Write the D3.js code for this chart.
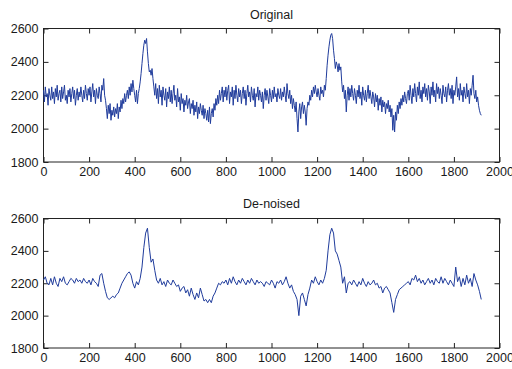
<!DOCTYPE html>
<html>
<head>
<meta charset="utf-8">
<script src="https://cdn.jsdelivr.net/npm/d3@7/dist/d3.min.js"></script>
<style>
  html, body { margin: 0; padding: 0; background: #fff; }
  svg { display: block; }
  .tick text { font-family: "Liberation Sans", Arial, Helvetica, sans-serif; font-size: 12.5px; fill: #1a1a1a; }
  .title { font-family: "Liberation Sans", Arial, Helvetica, sans-serif; font-size: 12.5px; fill: #1a1a1a; }
</style>
</head>
<body>
<svg id="chart" width="512" height="369"></svg>
<script>
// Spacing (in samples) between stored readings of each series
const originalStep = 4;
const denoisedStep = 8;

const xTicks = [0, 200, 400, 600, 800, 1000, 1200, 1400, 1600, 1800, 2000];
const yTicks = [1800, 2000, 2200, 2400, 2600];
const titles = ["Original", "De-noised"];

// Raw signal, one reading every 4 samples (0 .. 1920)
const original = [
  2230,2160,2250,2190,2210,2140,2240,2200,2170,2250,2180,2220,2150,2240,2190,2260,2170,2210,2230,2160,
  2250,2180,2220,2260,2170,2200,2150,2230,2190,2240,2160,2210,2250,2180,2230,2140,2200,2240,2170,2220,
  2190,2250,2200,2160,2230,2180,2260,2210,2170,2240,2200,2250,2160,2220,2270,2190,2230,2150,2240,2200,
  2180,2250,2210,2160,2260,2230,2300,2200,2170,2120,2060,2140,2090,2150,2050,2110,2080,2130,2070,2120,
  2090,2150,2060,2130,2100,2170,2120,2180,2150,2210,2160,2200,2230,2180,2250,2200,2270,2220,2290,2240,
  2200,2160,2230,2150,2210,2240,2280,2330,2390,2450,2500,2530,2510,2540,2460,2390,2340,2350,2320,2360,
  2300,2250,2200,2270,2180,2240,2150,2260,2190,2230,2140,2250,2200,2170,2240,2130,2220,2180,2250,2160,
  2230,2150,2210,2260,2170,2200,2130,2240,2160,2190,2110,2210,2150,2180,2100,2170,2140,2200,2120,2160,
  2180,2090,2150,2120,2170,2080,2140,2100,2160,2060,2130,2090,2150,2110,2080,2140,2060,2120,2090,2050,
  2110,2040,2130,2030,2090,2120,2070,2150,2110,2180,2140,2200,2150,2230,2170,2210,2250,2160,2230,2190,
  2250,2170,2230,2260,2150,2220,2190,2250,2140,2230,2180,2260,2200,2160,2240,2190,2230,2150,2210,2250,
  2180,2230,2140,2210,2260,2190,2220,2160,2250,2200,2170,2240,2130,2210,2190,2250,2170,2230,2200,2160,
  2220,2120,2200,2240,2170,2230,2190,2150,2240,2200,2160,2230,2180,2250,2190,2210,2160,2240,2200,2180,
  2240,2170,2220,2190,2250,2200,2160,2270,2210,2180,2230,2150,2200,2120,2180,2140,2100,2160,2060,1980,
  2100,2150,2060,2130,2160,2090,2140,2100,2020,2120,2160,2140,2200,2170,2230,2190,2250,2210,2260,2220,
  2190,2240,2200,2170,2250,2210,2230,2190,2260,2230,2300,2380,2440,2490,2530,2560,2570,2540,2470,2420,
  2360,2400,2380,2340,2390,2350,2370,2280,2220,2260,2180,2230,2100,2200,2250,2170,2240,2190,2260,2210,
  2170,2240,2200,2150,2230,2190,2260,2180,2220,2140,2250,2200,2170,2230,2160,2210,2260,2180,2230,2190,
  2150,2220,2190,2130,2210,2160,2200,2110,2180,2140,2190,2100,2170,2130,2160,2090,2150,2120,2170,2100,
  2140,2070,2120,1990,2080,1980,2100,2050,2140,2090,2160,2120,2180,2140,2200,2160,2220,2180,2150,2210,
  2230,2170,2260,2200,2150,2240,2190,2270,2210,2160,2250,2200,2280,2180,2230,2160,2250,2210,2270,2190,
  2240,2170,2260,2220,2150,2250,2200,2280,2190,2230,2160,2270,2210,2250,2180,2240,2200,2150,2260,2210,
  2190,2250,2160,2230,2270,2200,2240,2180,2260,2150,2230,2200,2250,2310,2190,2240,2170,2270,2200,2230,
  2160,2250,2210,2180,2270,2190,2230,2150,2240,2200,2260,2320,2210,2180,2230,2160,2190,2140,2110,2090,
  2080
];

// Filtered signal, one reading every 8 samples (0 .. 1920)
const denoised = [
  2220, 2240, 2200, 2190, 2230, 2190, 2240, 2200, 2180, 2230,
  2210, 2240, 2200, 2190, 2210, 2230, 2220, 2200, 2230, 2210,
  2220, 2200, 2230, 2210, 2200, 2220, 2190, 2230, 2210, 2200,
  2180, 2250, 2260, 2200, 2150, 2110, 2100, 2110, 2120, 2110,
  2130, 2140, 2170, 2200, 2220, 2240, 2260, 2270, 2250, 2200,
  2170, 2210, 2190, 2230, 2300, 2420, 2510, 2540, 2420, 2330,
  2350, 2280, 2220, 2200, 2230, 2190, 2210, 2180, 2220, 2200,
  2190, 2220, 2200, 2180, 2190, 2150, 2170, 2180, 2140, 2160,
  2120, 2170, 2130, 2100, 2140, 2110, 2170, 2130, 2090, 2100,
  2080, 2100, 2080, 2120, 2140, 2170, 2200, 2190, 2210, 2200,
  2220, 2190, 2230, 2200, 2240, 2210, 2190, 2220, 2200, 2230,
  2210, 2190, 2220, 2200, 2230, 2210, 2190, 2220, 2200, 2210,
  2200, 2180, 2210, 2200, 2190, 2220, 2200, 2170, 2210, 2200,
  2220, 2190, 2210, 2240, 2200, 2170, 2190, 2150, 2130, 2100,
  2000, 2120, 2140, 2100, 2060, 2130, 2170, 2220, 2200, 2240,
  2210, 2190, 2220, 2200, 2230, 2280, 2400, 2500, 2540, 2510,
  2400, 2380, 2340, 2300, 2200, 2240, 2140, 2200, 2210, 2190,
  2220, 2200, 2180, 2210, 2190, 2230, 2200, 2180, 2210, 2190,
  2200, 2220, 2190, 2200, 2170, 2180, 2140, 2170, 2180, 2160,
  2140, 2080, 2020, 2100, 2130, 2160, 2170, 2180, 2190, 2200,
  2210, 2190, 2230, 2220, 2250, 2210, 2230, 2200, 2220, 2190,
  2210, 2230, 2200, 2220, 2190, 2230, 2210, 2200, 2240, 2200,
  2230, 2210, 2190, 2220, 2200, 2180, 2300, 2210, 2240, 2180,
  2230, 2190, 2250, 2200, 2230, 2180, 2260, 2220, 2190, 2150,
  2100
];

const svg = d3.select("#chart");
const left = 43.5, right = 499.5;
const panels = [
  { title: titles[0], values: original, step: originalStep, top: 28.5, bottom: 162, titleY: 19 },
  { title: titles[1], values: denoised, step: denoisedStep, top: 218.5, bottom: 348, titleY: 208 }
];

const x = d3.scaleLinear().domain([0, 2000]).range([left, right]);
const lineColor = "#203c9c";

panels.forEach(p => {
  const y = d3.scaleLinear().domain([1800, 2600]).range([p.bottom, p.top]);
  const g = svg.append("g");

  // inward ticks on all four sides, labels only bottom and left
  const styleAxis = sel => {
    sel.select(".domain").remove();
    sel.selectAll(".tick line").attr("stroke", "#222").attr("stroke-width", 1);
  };

  g.append("g")
    .attr("transform", `translate(0,${p.bottom})`)
    .call(d3.axisBottom(x).tickValues(xTicks).tickFormat(d3.format("d"))
      .tickSizeInner(-5).tickSizeOuter(0).tickPadding(5))
    .call(styleAxis)
    .selectAll("text").attr("font-family", null).attr("font-size", null);

  g.append("g")
    .attr("transform", `translate(0,${p.top})`)
    .call(d3.axisTop(x).tickValues(xTicks).tickFormat("")
      .tickSizeInner(-5).tickSizeOuter(0))
    .call(styleAxis);

  g.append("g")
    .attr("transform", `translate(${left},0)`)
    .call(d3.axisLeft(y).tickValues(yTicks).tickFormat(d3.format("d"))
      .tickSizeInner(-5).tickSizeOuter(0).tickPadding(5))
    .call(styleAxis)
    .selectAll("text").attr("font-family", null).attr("font-size", null);

  g.append("g")
    .attr("transform", `translate(${right},0)`)
    .call(d3.axisRight(y).tickValues(yTicks).tickFormat("")
      .tickSizeInner(-5).tickSizeOuter(0))
    .call(styleAxis);

  // axes box
  g.append("rect")
    .attr("x", left).attr("y", p.top)
    .attr("width", right - left).attr("height", p.bottom - p.top)
    .attr("fill", "none").attr("stroke", "#222").attr("stroke-width", 1);

  // signal trace
  const line = d3.line()
    .x((d, i) => x(i * p.step))
    .y(d => y(d));

  g.append("path")
    .datum(p.values)
    .attr("d", line)
    .attr("fill", "none")
    .attr("stroke", lineColor)
    .attr("stroke-width", 1)
    .attr("stroke-linejoin", "miter");

  g.append("text")
    .attr("class", "title")
    .attr("x", (left + right) / 2)
    .attr("y", p.titleY)
    .attr("text-anchor", "middle")
    .text(p.title);
});
</script>
</body>
</html>
